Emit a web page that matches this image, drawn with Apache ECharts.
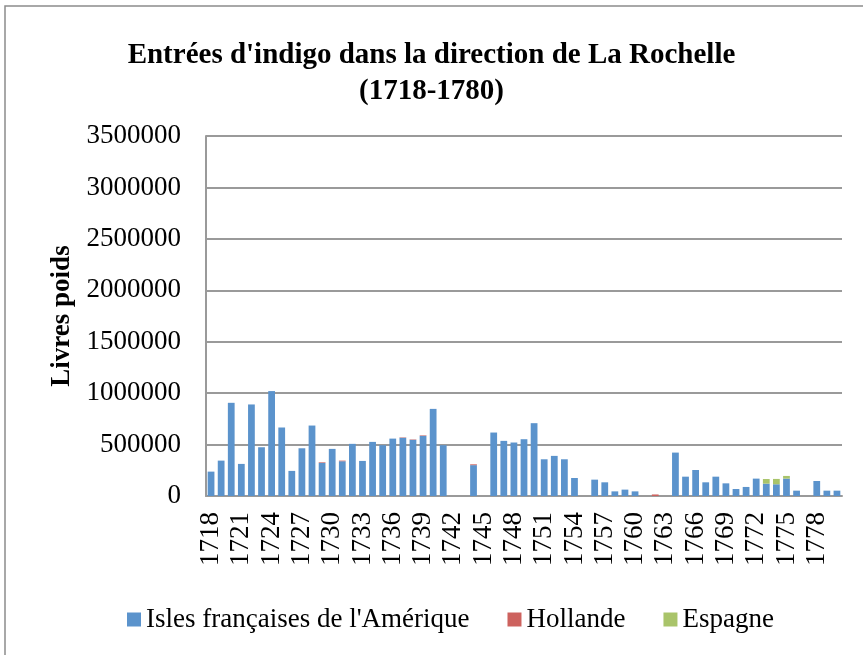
<!DOCTYPE html>
<html lang="fr">
<head>
  <meta charset="UTF-8">
  <title>Entrées d'indigo</title>
  <script src="https://cdn.jsdelivr.net/npm/echarts@6/dist/echarts.min.js"></script>
  <style>
    html, body { margin: 0; padding: 0; background: #fff; }
    #chart { width: 863px; height: 655px; }
  </style>
</head>
<body>
  <div id="chart"></div>
  <script>
    var years = [
      '1718', '1719', '1720', '1721', '1722', '1723', '1724', '1725', '1726', '1727',
      '1728', '1729', '1730', '1731', '1732', '1733', '1734', '1735', '1736', '1737',
      '1738', '1739', '1740', '1741', '1742', '1743', '1744', '1745', '1746', '1747',
      '1748', '1749', '1750', '1751', '1752', '1753', '1754', '1755', '1756', '1757',
      '1758', '1759', '1760', '1761', '1762', '1763', '1764', '1765', '1766', '1767',
      '1768', '1769', '1770', '1771', '1772', '1773', '1774', '1775', '1776', '1777',
      '1778', '1779', '1780'
    ]

    // Isles françaises de l'Amérique
    var isles = [
      237000, 344000, 906000, 312000, 890000, 474000, 1020000, 666000, 244000, 464000,
      685000, 322000, 458000, 338000, 507000, 341000, 526000, 494000, 558000, 566000,
      546000, 585000, 847000, 494000, null, null, 300000, null, 617000, 536000,
      520000, 552000, 708000, 357000, 390000, 357000, 175000, null, 159000, 133000,
      45000, 62000, 45000, null, null, null, 422000, 188000, 253000, 133000,
      188000, 123000, 68000, 88000, 169000, 120000, 114000, 169000, 52000, null,
      146000, 52000, 52000
    ]

    var hollande = [
      null, null, null, null, null, null, null, null, null, null,
      null, 6000, null, 6000, null, null, null, null, null, 4000,
      4000, 5000, null, null, null, null, 8000, null, null, null,
      null, null, null, null, null, null, null, null, null, null,
      null, null, null, null, 15000, null, null, null, null, null,
      null, null, null, null, null, null, null, null, null, null,
      null, null, null
    ]

    var espagne = [
      null, null, null, null, null, null, null, null, null, null,
      null, null, null, null, null, null, null, null, null, null,
      null, null, null, null, null, null, null, null, null, null,
      null, null, null, null, null, null, null, null, null, null,
      null, null, null, null, null, null, null, null, null, null,
      null, null, null, null, null, 45000, 52000, 26000, null, null,
      null, null, null
    ]

    var font = '"Liberation Serif", "Times New Roman", serif'

    var chart = echarts.init(document.getElementById('chart'))
    chart.setOption({
      animation: false,
      textStyle: { fontFamily: font, color: '#000' },
      title: {
        text: "Entrées d'indigo dans la direction de La Rochelle\n(1718-1780)",
        left: 'center',
        top: 33,
        textStyle: {
          fontFamily: font,
          fontSize: 29,
          fontWeight: 'bold',
          lineHeight: 36,
          color: '#000'
        }
      },
      graphic: [{
        type: 'rect',
        shape: { x: 5, y: 6, width: 900, height: 700 },
        style: { fill: 'none', stroke: '#8c8c8c', lineWidth: 1.5 }
      }],
      legend: {
        left: 122,
        top: 601,
        icon: 'rect',
        itemWidth: 14,
        itemHeight: 14,
        itemGap: 38,
        textStyle: { fontFamily: font, fontSize: 27, color: '#000' },
        data: ["Isles françaises de l'Amérique", 'Hollande', 'Espagne']
      },
      grid: {
        left: 206,
        top: 136,
        right: 21,
        bottom: 159
      },
      xAxis: {
        type: 'category',
        data: years,
        axisLine: { lineStyle: { color: '#9a9a9a', width: 2 } },
        axisTick: { show: false },
        axisLabel: {
          interval: 2,
          rotate: 90,
          margin: 16,
          fontSize: 27,
          fontFamily: font,
          color: '#000'
        }
      },
      yAxis: {
        type: 'value',
        min: 0,
        max: 3500000,
        interval: 500000,
        name: 'Livres poids',
        nameLocation: 'middle',
        nameGap: 129,
        nameTextStyle: { fontFamily: font, fontSize: 27, fontWeight: 'bold', color: '#000' },
        axisLine: { show: true, lineStyle: { color: '#9a9a9a', width: 2 } },
        axisTick: { show: false },
        splitLine: { lineStyle: { color: '#9a9a9a', width: 2 } },
        axisLabel: {
          margin: 25,
          fontSize: 27,
          fontFamily: font,
          color: '#000',
          formatter: function (v) { return String(v) }
        }
      },
      series: [
        {
          name: "Isles françaises de l'Amérique",
          type: 'bar',
          stack: 'total',
          barCategoryGap: '33%',
          itemStyle: { color: '#5b93cc' },
          data: isles
        },
        {
          name: 'Hollande',
          type: 'bar',
          stack: 'total',
          itemStyle: { color: '#cd625e' },
          data: hollande
        },
        {
          name: 'Espagne',
          type: 'bar',
          stack: 'total',
          itemStyle: { color: '#a9c46a' },
          data: espagne
        }
      ]
    })
  </script>
</body>
</html>
